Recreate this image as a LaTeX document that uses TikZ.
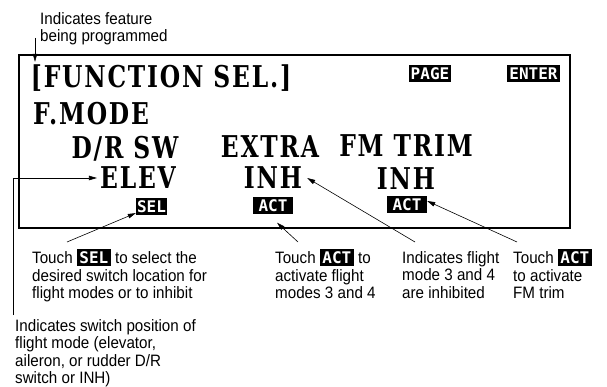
\documentclass[tikz,border=0pt]{standalone}
\usepackage{fontspec}
\setmainfont{Liberation Sans}[FakeStretch=0.92]
\newfontfamily\lcdfont{DejaVu Serif}[FakeStretch=0.78,LetterSpace=6]
\newfontfamily\keyfont{DejaVu Sans Mono}
\usetikzlibrary{arrows.meta,positioning}
\newcommand{\inkey}[1]{{\setlength{\fboxsep}{2.5pt}\colorbox{black}{\keyfont\bfseries\fontsize{16}{16}\selectfont\textcolor{white}{#1}}}}
\tikzset{
  lcd/.style={font=\lcdfont\bfseries\fontsize{30}{30}\selectfont,inner sep=0pt,
    text height=22pt,text depth=0pt},
  key/.style={fill=black,text=white,font=\keyfont\bfseries\fontsize{16}{16}\selectfont,inner sep=0pt,
    minimum height=17pt},
  lbl/.style={font=\fontsize{16.5}{17.6}\selectfont,align=left,inner sep=0pt,anchor=north west},
  arr/.style={-{Triangle[length=8pt,width=4.5pt]},line width=0.6pt},
  screen/.style={draw,line width=1.4pt,inner sep=0pt}
}

\begin{document}
\begin{tikzpicture}[x=1pt,y=1pt]
  \useasboundingbox (0,0) rectangle (607,-387);
  % LCD screen and its texts
  \node[screen,minimum width=551pt,minimum height=173pt] (lcd) at (294.5,-141.5) {};
  \node[lcd] (func)  at (161,-77)   {[FUNCTION SEL.]};
  \node[lcd] (fmode) at (91,-114)   {F.MODE};
  \node[lcd] (drsw)  at (125,-147.5) {D/R SW};
  \node[lcd] (extra) at (270,-147)  {EXTRA};
  \node[lcd] (fmtrim) at (406,-146) {FM TRIM};
  \node[lcd] (elev)  at (138,-178)  {ELEV};
  \node[lcd] (inh1)  at (273,-178)  {INH};
  \node[lcd] (inh2)  at (406,-179)  {INH};
  % touch keys
  \node[key,minimum width=42pt] (page)  at (430,-74)  {PAGE};
  \node[key,minimum width=53pt] (enter) at (533.5,-74) {ENTER};
  \node[key,minimum width=31pt] (sel)   at (151.5,-206.5) {SEL};
  \node[key,minimum width=40pt] (act1)  at (273,-206) {ACT};
  \node[key,minimum width=40pt] (act2)  at (407,-205) {ACT};
  % callouts
  \node[lbl] (featlbl) at (40,-12)  {Indicates feature\\being programmed};
  \node[lbl] (sellbl)  at (32,-249) {Touch \inkey{SEL} to select the\\desired switch location for\\flight modes or to inhibit};
  \node[lbl] (act1lbl) at (275,-249) {Touch \inkey{ACT} to\\activate flight\\modes 3 and 4};
  \node[lbl] (inhlbl)  at (402,-251) {Indicates flight\\mode 3 and 4\\are inhibited};
  \node[lbl] (trimlbl) at (513,-249) {Touch \inkey{ACT}\\to activate\\FM trim};
  \node[lbl] (swlbl)   at (15,-319) {Indicates switch position of\\flight mode (elevator,\\aileron, or rudder D/R\\switch or INH)};
  % leader ends
  \coordinate (featfrom) at (35,-38);
  \coordinate (selfrom)  at (67,-242);
  \coordinate (act1from) at (298,-242);
  \coordinate (inhfrom)  at (415,-242);
  \coordinate (trimfrom) at (517,-242);
  % leaders
  \draw[arr] (featfrom) -- ([yshift=4pt]featfrom |- func.north);
  \draw[arr] ([shift={(-2pt,4pt)}]swlbl.north west) |- ([xshift=-3pt]elev.west);
  \draw[arr] (selfrom) -- (sel);
  \draw[arr] (act1from) -- ([shift={(4pt,-8pt)}]act1.south);
  \draw[arr] (inhfrom) -- ([xshift=5pt]inh1.east);
  \draw[arr] (trimfrom) -- ([yshift=4pt]act2.east);
\end{tikzpicture}
\end{document}
